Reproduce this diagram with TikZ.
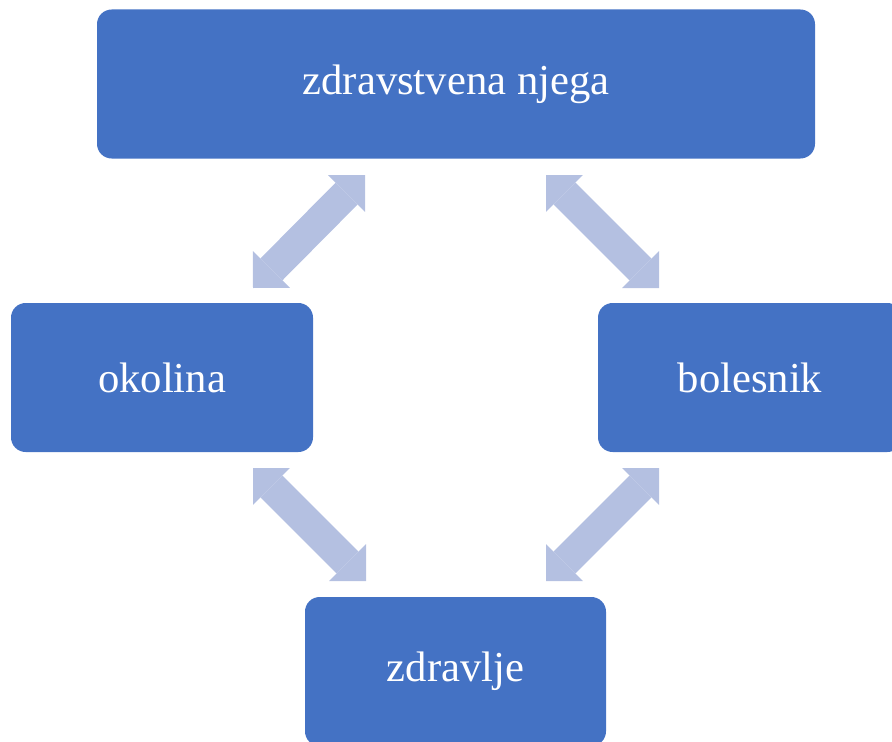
\documentclass[tikz,border=0pt]{standalone}
\usepackage{fontspec}
\setmainfont{Liberation Serif}
\usetikzlibrary{arrows.meta}

\definecolor{boxblue}{RGB}{68,114,196}
\definecolor{arrowblue}{RGB}{180,192,225}

\tikzset{
  boxnode/.style={fill=boxblue,rounded corners=11pt,inner sep=0pt,text=white,
    font=\fontsize{32}{38}\selectfont,minimum height=111.75pt},
  dblarrow/.style={draw=arrowblue,line width=23.25pt,
    {Triangle[length=19.6pt,width=39.2pt,line width=0pt]}-{Triangle[length=19.6pt,width=39.2pt,line width=0pt]}}
}

\begin{document}
\begin{tikzpicture}[x=0.75pt,y=0.75pt,yscale=-1,xscale=1]
\useasboundingbox (0,0) rectangle (892,742);

% Boxes
\node (njega) [boxnode,minimum width=538.5pt] at (456,84) {zdravstvena njega};
\node (okolina) [boxnode,minimum width=226.5pt] at (162,377.5) {okolina};
\node (bolesnik) [boxnode,minimum width=228pt] at (750,377.5) {bolesnik};
\node (zdravlje) [boxnode,minimum width=225.75pt] at (455.5,671.5) {zdravlje};

% Arrow ends
\coordinate (a1) at (365,175);
\coordinate (a2) at (253,288);
\coordinate (b1) at (546,175);
\coordinate (b2) at (659,288);
\coordinate (c1) at (253,468);
\coordinate (c2) at (366,581);
\coordinate (d1) at (659,468);
\coordinate (d2) at (546,581);

% Arrows
\draw [dblarrow] (a1) -- (a2);
\draw [dblarrow] (b1) -- (b2);
\draw [dblarrow] (c1) -- (c2);
\draw [dblarrow] (d1) -- (d2);

\end{tikzpicture}
\end{document}
